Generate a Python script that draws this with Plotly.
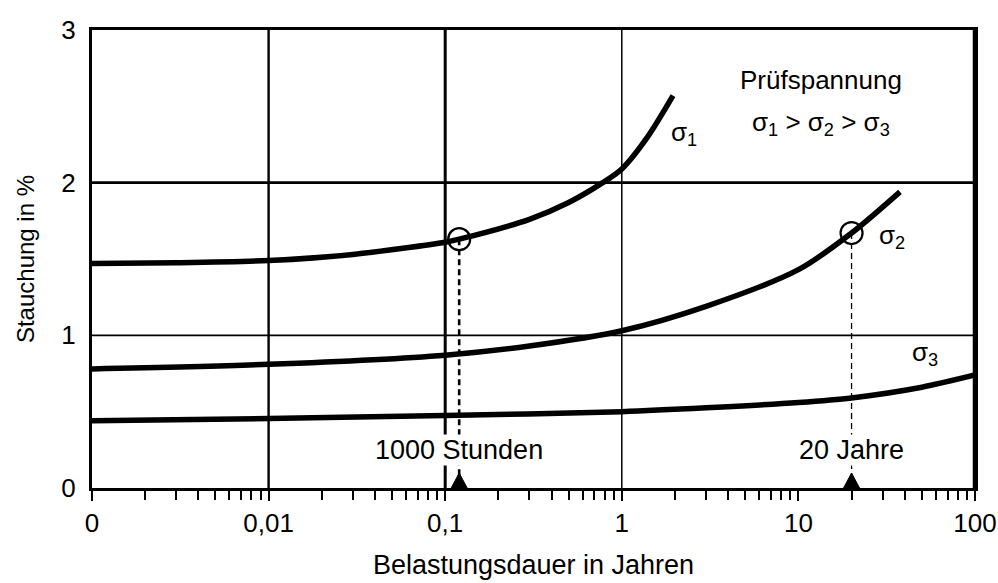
import math
import plotly.graph_objects as go

# --- data ---
s1_x = [0.001, 0.003, 0.01, 0.03, 0.1, 0.12, 0.3, 0.5, 0.78, 1.0, 1.4, 1.95]
s1_y = [1.47, 1.475, 1.49, 1.53, 1.61, 1.63, 1.76, 1.87, 2.0, 2.09, 2.3, 2.57]

s2_x = [0.001, 0.01, 0.1, 0.3, 1.0, 3.0, 10.0, 20.0, 37.6]
s2_y = [0.78, 0.81, 0.87, 0.93, 1.03, 1.19, 1.43, 1.67, 1.94]

s3_x = [0.001, 0.01, 0.1, 1.0, 3.0, 10.0, 20.0, 50.0, 100.0]
s3_y = [0.44, 0.455, 0.475, 0.50, 0.525, 0.56, 0.59, 0.66, 0.74]

mark_x = [0.12, 20.0]          # 1000 Stunden, 20 Jahre
mark_y = [1.63, 1.67]
mark_text = ["1000 Stunden", "20 Jahre"]
mark_dash_w = [2.6, 1.3]

x_tickvals = [0.001, 0.01, 0.1, 1, 10, 100]
x_ticktext = ["0", "0,01", "0,1", "1", "10", "100"]
y_tickvals = [0, 1, 2, 3]

grid_x = [0.01, 0.1, 1]
grid_x_w = [2.4, 3.0, 1.5]
grid_y = [1, 2]
grid_y_w = [1.8, 2.8]

curve_labels = [("σ<sub>1</sub>", 2.25, 2.32), ("σ<sub>2</sub>", 34, 1.65), ("σ<sub>3</sub>", 52, 0.88)]

minor_vals = [m * 10 ** e for e in range(-3, 2) for m in range(2, 10)]

FONT = "Liberation Sans, Arial, sans-serif"

fig = go.Figure()

for xs, ys in [(s1_x, s1_y), (s2_x, s2_y), (s3_x, s3_y)]:
    fig.add_trace(go.Scatter(x=xs, y=ys, mode="lines",
                             line=dict(color="black", width=5.5, shape="spline", smoothing=0.8),
                             showlegend=False, hoverinfo="skip"))

# dashed drop lines
for mx, my, w in zip(mark_x, mark_y, mark_dash_w):
    fig.add_trace(go.Scatter(x=[mx, mx], y=[my, 0], mode="lines",
                             line=dict(color="black", width=w, dash="6px,4px"),
                             showlegend=False, hoverinfo="skip"))

# open circles
fig.add_trace(go.Scatter(x=mark_x, y=mark_y, mode="markers",
                         marker=dict(symbol="circle-open", size=22, color="black", line=dict(width=2.2)),
                         showlegend=False, hoverinfo="skip"))

shapes = []
for gx, w in zip(grid_x, grid_x_w):
    shapes.append(dict(type="line", xref="x", yref="paper", x0=gx, x1=gx, y0=0, y1=1,
                       line=dict(color="black", width=w), layer="below"))
for gy, w in zip(grid_y, grid_y_w):
    shapes.append(dict(type="line", xref="paper", yref="y", x0=0, x1=1, y0=gy, y1=gy,
                       line=dict(color="black", width=w), layer="below"))
# heavier right frame edge
shapes.append(dict(type="line", xref="paper", yref="paper", x0=1, x1=1, y0=0, y1=1,
                   line=dict(color="black", width=4.5)))
# small triangles standing on the x axis under the marked durations
for mx in mark_x:
    shapes.append(dict(type="path", xref="x", yref="y", xsizemode="pixel", ysizemode="pixel",
                       xanchor=mx, yanchor=0, path="M-8,0 L8,0 L0,15 Z",
                       fillcolor="black", line=dict(color="black", width=1)))

annotations = []
for mx, t in zip(mark_x, mark_text):
    annotations.append(dict(x=math.log10(mx), y=0.25, xref="x", yref="y", text=t, showarrow=False,
                            xanchor="center", yanchor="middle",
                            font=dict(family=FONT, size=27, color="black"),
                            bgcolor="white", borderpad=0))
for t, lx, ly in curve_labels:
    annotations.append(dict(x=math.log10(lx), y=ly, xref="x", yref="y", text=t, showarrow=False,
                            xanchor="center", yanchor="middle",
                            font=dict(family=FONT, size=26, color="black")))
annotations.append(dict(x=0.826, y=0.89, xref="paper", yref="paper", text="Prüfspannung",
                        xanchor="center", yanchor="middle",
                        showarrow=False, font=dict(family=FONT, size=26, color="black")))
annotations.append(dict(x=0.826, y=0.795, xref="paper", yref="paper",
                        text="σ<sub>1</sub> > σ<sub>2</sub> > σ<sub>3</sub>",
                        xanchor="center", yanchor="middle",
                        showarrow=False, font=dict(family=FONT, size=26, color="black")))

fig.update_layout(
    width=998, height=583,
    margin=dict(l=92, r=23, t=30, b=95, autoexpand=False),
    plot_bgcolor="white", paper_bgcolor="white",
    font=dict(family=FONT, size=26, color="black"),
    shapes=shapes, annotations=annotations,
    xaxis=dict(type="log", range=[-3, 2], tickvals=x_tickvals, ticktext=x_ticktext,
               tickfont=dict(size=26), ticklabeloverflow="allow", automargin=False,
               showgrid=False, zeroline=False, showline=True, linecolor="black", linewidth=3,
               mirror=True, ticks="outside", ticklen=10, tickwidth=2, tickcolor="black",
               minor=dict(tickvals=minor_vals, ticks="outside", ticklen=9, tickwidth=2,
                          tickcolor="black", showgrid=False),
               title=dict(text="Belastungsdauer in Jahren", font=dict(size=27), standoff=18)),
    yaxis=dict(range=[0, 3], tickvals=y_tickvals, showgrid=False, zeroline=False,
               tickfont=dict(size=26), automargin=False,
               showline=True, linecolor="black", linewidth=3, mirror=True, ticks="",
               ticklabelstandoff=8,
               title=dict(text="Stauchung in %", font=dict(size=24), standoff=20)),
)

fig.write_html("out.html", config={"displayModeBar": False},
               post_script="document.body.style.margin='0';document.body.style.overflow='hidden';")
